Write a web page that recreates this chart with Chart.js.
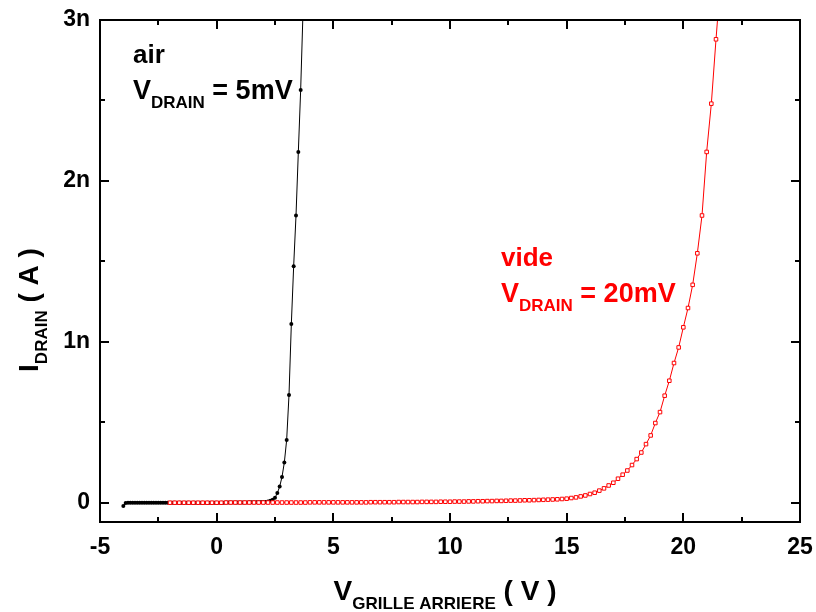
<!DOCTYPE html>
<html>
<head>
<meta charset="utf-8">
<script src="https://cdn.jsdelivr.net/npm/chart.js@4"></script>
<style>
  html, body { margin: 0; padding: 0; background: #fff; }
  #wrap { width: 816px; height: 612px; }
</style>
</head>
<body>
<div id="wrap"><canvas id="ivChart" width="816" height="612"></canvas></div>
<script>
// vide, V_DRAIN = 20mV : gate voltage (V) and drain current (nA)
const videV = [
  -2.0, -1.8, -1.6, -1.4, -1.2, -1.0, -0.8, -0.6, -0.4, -0.2,
  0.0, 0.2, 0.4, 0.6, 0.8, 1.0, 1.2, 1.4, 1.6, 1.8,
  2.0, 2.2, 2.4, 2.6, 2.8, 3.0, 3.2, 3.4, 3.6, 3.8,
  4.0, 4.2, 4.4, 4.6, 4.8, 5.0, 5.2, 5.4, 5.6, 5.8,
  6.0, 6.2, 6.4, 6.6, 6.8, 7.0, 7.2, 7.4, 7.6, 7.8,
  8.0, 8.2, 8.4, 8.6, 8.8, 9.0, 9.2, 9.4, 9.6, 9.8,
  10.0, 10.2, 10.4, 10.6, 10.8, 11.0, 11.2, 11.4, 11.6, 11.8,
  12.0, 12.2, 12.4, 12.6, 12.8, 13.0, 13.2, 13.4, 13.6, 13.8,
  14.0, 14.2, 14.4, 14.6, 14.8, 15.0, 15.2, 15.4, 15.6, 15.8,
  16.0, 16.2, 16.4, 16.6, 16.8, 17.0, 17.2, 17.4, 17.6, 17.8,
  18.0, 18.2, 18.4, 18.6, 18.8, 19.0, 19.2, 19.4, 19.6, 19.8,
  20.0, 20.2, 20.4, 20.6, 20.8, 21.0, 21.2, 21.4, 21.6
];
const videI = [
  0.000, 0.000, 0.000, 0.000, 0.000, 0.000, 0.000, 0.000, 0.000, 0.000,
  0.000, 0.000, 0.001, 0.001, 0.001, 0.001, 0.001, 0.001, 0.001, 0.001,
  0.001, 0.001, 0.001, 0.001, 0.001, 0.001, 0.001, 0.001, 0.001, 0.001,
  0.002, 0.002, 0.002, 0.002, 0.002, 0.002, 0.002, 0.002, 0.002, 0.002,
  0.002, 0.002, 0.002, 0.003, 0.003, 0.003, 0.003, 0.003, 0.003, 0.004,
  0.004, 0.004, 0.004, 0.004, 0.005, 0.005, 0.005, 0.005, 0.006, 0.006,
  0.006, 0.007, 0.007, 0.007, 0.008, 0.008, 0.009, 0.009, 0.010, 0.010,
  0.011, 0.011, 0.012, 0.013, 0.013, 0.014, 0.015, 0.015, 0.016, 0.017,
  0.018, 0.019, 0.020, 0.021, 0.023, 0.025, 0.029, 0.033, 0.039, 0.045,
  0.054, 0.062, 0.075, 0.089, 0.107, 0.124, 0.149, 0.174, 0.200, 0.234,
  0.271, 0.312, 0.364, 0.418, 0.495, 0.563, 0.665, 0.758, 0.868, 0.965,
  1.090, 1.210, 1.354, 1.550, 1.785, 2.180, 2.480, 2.880, 3.250
];

// air, V_DRAIN = 5mV
const airV = [
  -4.0,
  -3.9, -3.8, -3.7, -3.6, -3.5, -3.4, -3.3, -3.2, -3.1, -3.0,
  -2.9, -2.8, -2.7, -2.6, -2.5, -2.4, -2.3, -2.2, -2.1, -2.0,
  -1.9, -1.8, -1.7, -1.6, -1.5, -1.4, -1.3, -1.2, -1.1, -1.0,
  -0.9, -0.8, -0.7, -0.6, -0.5, -0.4, -0.3, -0.2, -0.1, 0.0,
  0.1, 0.2, 0.3, 0.4, 0.5, 0.6, 0.7, 0.8, 0.9, 1.0,
  1.1, 1.2, 1.3, 1.4, 1.5, 1.6, 1.7, 1.8, 1.9, 2.0,
  2.1, 2.2, 2.3, 2.4, 2.5, 2.6, 2.7, 2.8, 2.9, 3.0,
  3.1, 3.2, 3.3, 3.4, 3.5, 3.6, 3.7
];
const airI = [
  -0.020,
  -0.002, -0.001, 0.000, 0.000, 0.000, 0.000, 0.000, 0.000, 0.000, 0.000,
  0.000, 0.000, 0.000, 0.000, 0.000, 0.000, 0.000, 0.000, 0.000, 0.000,
  0.000, 0.000, 0.000, 0.000, 0.000, 0.000, 0.000, 0.000, 0.000, 0.000,
  0.000, 0.000, 0.000, 0.000, 0.000, 0.000, 0.000, 0.000, 0.000, 0.000,
  0.000, 0.000, 0.000, 0.001, 0.001, 0.001, 0.001, 0.001, 0.001, 0.001,
  0.001, 0.001, 0.001, 0.002, 0.002, 0.002, 0.003, 0.003, 0.004, 0.004,
  0.005, 0.008, 0.012, 0.018, 0.030, 0.060, 0.100, 0.160, 0.250, 0.390,
  0.670, 1.110, 1.470, 1.785, 2.180, 2.565, 3.050
];

const xTicks = [-5, 0, 5, 10, 15, 20, 25];
const yTicks = [0, 1, 2, 3];
const yTickLabels = ['0', '1n', '2n', '3n'];

const FONT = '"Liberation Sans", Arial, sans-serif';

function pts(xs, ys) {
  return xs.map((x, i) => ({ x: x, y: ys[i] }));
}

// frame + inward ticks, like the original plot
const framePlugin = {
  id: 'frame',
  afterDatasetsDraw(chart) {
    const ctx = chart.ctx;
    const a = chart.chartArea;
    const xs = chart.scales.x;
    const ys = chart.scales.y;
    ctx.save();
    ctx.strokeStyle = '#000';
    ctx.lineWidth = 2;
    ctx.strokeRect(a.left, a.top, a.right - a.left, a.bottom - a.top);
    ctx.beginPath();
    for (let i = 0; i < xTicks.length; i++) {
      const px = Math.round(xs.getPixelForValue(xTicks[i]));
      ctx.moveTo(px, a.bottom); ctx.lineTo(px, a.bottom - 9);
      ctx.moveTo(px, a.top); ctx.lineTo(px, a.top + 9);
      if (i < xTicks.length - 1) {
        const mx = Math.round(xs.getPixelForValue((xTicks[i] + xTicks[i + 1]) / 2));
        ctx.moveTo(mx, a.bottom); ctx.lineTo(mx, a.bottom - 5);
        ctx.moveTo(mx, a.top); ctx.lineTo(mx, a.top + 5);
      }
    }
    for (let i = 0; i < yTicks.length; i++) {
      const py = Math.round(ys.getPixelForValue(yTicks[i]));
      ctx.moveTo(a.left, py); ctx.lineTo(a.left + 9, py);
      ctx.moveTo(a.right, py); ctx.lineTo(a.right - 9, py);
      if (i < yTicks.length - 1) {
        const my = Math.round(ys.getPixelForValue((yTicks[i] + yTicks[i + 1]) / 2));
        ctx.moveTo(a.left, my); ctx.lineTo(a.left + 5, my);
        ctx.moveTo(a.right, my); ctx.lineTo(a.right - 5, my);
      }
    }
    ctx.stroke();
    ctx.restore();
  }
};

// draw a run of text pieces, each with its own size and baseline shift
function drawRuns(ctx, x, y, runs, color) {
  ctx.fillStyle = color;
  ctx.textBaseline = 'alphabetic';
  ctx.textAlign = 'left';
  let cx = x;
  runs.forEach(r => {
    ctx.font = 'bold ' + r[1] + 'px ' + FONT;
    ctx.fillText(r[0], cx, y + (r[2] || 0));
    cx += ctx.measureText(r[0]).width;
  });
  return cx - x;
}

function runsWidth(ctx, runs) {
  let w = 0;
  runs.forEach(r => {
    ctx.font = 'bold ' + r[1] + 'px ' + FONT;
    w += ctx.measureText(r[0]).width;
  });
  return w;
}

const textPlugin = {
  id: 'labels',
  afterDraw(chart) {
    const ctx = chart.ctx;
    ctx.save();
    // annotations
    drawRuns(ctx, 133, 63, [['air', 26]], '#000');
    drawRuns(ctx, 133, 99, [['V', 27], ['DRAIN', 17, 9], [' = 5mV', 27]], '#000');
    drawRuns(ctx, 501, 266, [['vide', 26]], '#ff0000');
    drawRuns(ctx, 501, 302, [['V', 27], ['DRAIN', 17, 9], [' = 20mV', 27]], '#ff0000');

    // x title
    const xr = [['V', 28], ['GRILLE ARRIERE', 17, 9], [' ( V )', 28]];
    const xw = runsWidth(ctx, xr);
    drawRuns(ctx, 445 - xw / 2, 600, xr, '#000');

    // y title, rotated
    const yr = [['I', 28], ['DRAIN', 17, 9], [' ( A )', 28]];
    const yw = runsWidth(ctx, yr);
    ctx.translate(38, 310);
    ctx.rotate(-Math.PI / 2);
    drawRuns(ctx, -yw / 2, 0, yr, '#000');
    ctx.restore();
  }
};

new Chart(document.getElementById('ivChart'), {
  type: 'line',
  data: {
    datasets: [
      {
        label: 'vide',
        data: pts(videV, videI),
        borderColor: '#ff0000',
        borderWidth: 1,
        pointStyle: 'rect',
        pointRadius: 2.5,
        pointBorderWidth: 1,
        pointBorderColor: '#ff0000',
        pointBackgroundColor: '#ffffff',
        tension: 0
      },
      {
        label: 'air',
        data: pts(airV, airI),
        borderColor: '#000000',
        borderWidth: 1,
        pointStyle: 'circle',
        pointRadius: 2,
        pointBorderWidth: 0,
        pointBackgroundColor: '#000000',
        tension: 0
      }
    ]
  },
  options: {
    responsive: false,
    animation: false,
    events: [],
    layout: { padding: { top: 20, right: 16, left: 0, bottom: 0 } },
    plugins: {
      legend: { display: false },
      tooltip: { enabled: false },
      title: { display: false }
    },
    scales: {
      x: {
        type: 'linear',
        min: -5,
        max: 25,
        afterBuildTicks: s => { s.ticks = xTicks.map(v => ({ value: v })); },
        afterFit: s => { s.height = 90; s.paddingLeft = 0; s.paddingRight = 0; },
        grid: { display: false, drawTicks: false },
        border: { display: false },
        ticks: {
          padding: 12,
          color: '#000',
          font: { family: FONT, size: 23, weight: 'bold' },
          maxRotation: 0
        }
      },
      y: {
        type: 'linear',
        min: -0.12,
        max: 3,
        afterBuildTicks: s => { s.ticks = yTicks.map(v => ({ value: v })); },
        afterFit: s => { s.width = 100; s.paddingTop = 0; s.paddingBottom = 0; },
        grid: { display: false, drawTicks: false },
        border: { display: false },
        ticks: {
          padding: 10,
          color: '#000',
          font: { family: FONT, size: 23, weight: 'bold' },
          callback: (v) => yTickLabels[yTicks.indexOf(v)]
        }
      }
    }
  },
  plugins: [framePlugin, textPlugin]
});
</script>
</body>
</html>
